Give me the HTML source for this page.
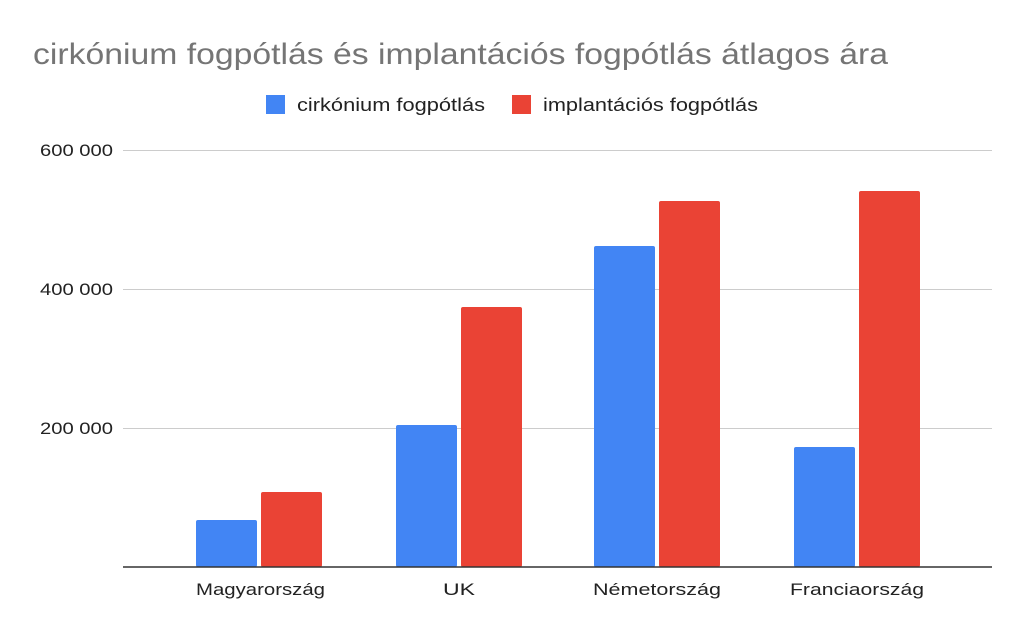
<!DOCTYPE html>
<html><head><meta charset="utf-8"><style>
body{margin:0;background:#fff;}
svg{display:block;font-family:"Liberation Sans",Arial,sans-serif;}
</style></head><body>
<svg width="1024" height="633" viewBox="0 0 1024 633">
<rect width="1024" height="633" fill="#fff"/>
<text x="33" y="64" font-size="30" fill="#757575" textLength="855" lengthAdjust="spacingAndGlyphs">cirkónium fogpótlás és implantációs fogpótlás átlagos ára</text>
<rect x="266" y="95" width="19" height="19" fill="#4285f4"/>
<text x="297" y="111" font-size="18" fill="#222" textLength="188" lengthAdjust="spacingAndGlyphs">cirkónium fogpótlás</text>
<rect x="512" y="95" width="19" height="19" fill="#ea4335"/>
<text x="543" y="111" font-size="18" fill="#222" textLength="215" lengthAdjust="spacingAndGlyphs">implantációs fogpótlás</text>
<g stroke="#cccccc" stroke-width="1">
<line x1="123" y1="150.5" x2="992" y2="150.5"/>
<line x1="123" y1="289.5" x2="992" y2="289.5"/>
<line x1="123" y1="428.5" x2="992" y2="428.5"/>
</g>
<g font-size="17" fill="#222">
<text x="40" y="156" textLength="73" lengthAdjust="spacingAndGlyphs">600 000</text>
<text x="40" y="295" textLength="73" lengthAdjust="spacingAndGlyphs">400 000</text>
<text x="40" y="434" textLength="73" lengthAdjust="spacingAndGlyphs">200 000</text>
</g>
<g fill="#4285f4">
<rect x="196" y="520" width="61" height="47" rx="2"/>
<rect x="396" y="425" width="61" height="142" rx="2"/>
<rect x="594" y="246" width="61" height="321" rx="2"/>
<rect x="794" y="447" width="61" height="120" rx="2"/>
</g>
<g fill="#ea4335">
<rect x="261" y="492" width="61" height="75" rx="2"/>
<rect x="461" y="307" width="61" height="260" rx="2"/>
<rect x="659" y="201" width="61" height="366" rx="2"/>
<rect x="859" y="191" width="61" height="376" rx="2"/>
</g>
<line x1="123" y1="567" x2="992" y2="567" stroke="#333" stroke-width="1.5"/>
<g font-size="17" fill="#222">
<text x="196" y="595" textLength="129" lengthAdjust="spacingAndGlyphs">Magyarország</text>
<text x="443" y="595" textLength="32" lengthAdjust="spacingAndGlyphs">UK</text>
<text x="593" y="595" textLength="128" lengthAdjust="spacingAndGlyphs">Németország</text>
<text x="790" y="595" textLength="134" lengthAdjust="spacingAndGlyphs">Franciaország</text>
</g>
</svg>
</body></html>
